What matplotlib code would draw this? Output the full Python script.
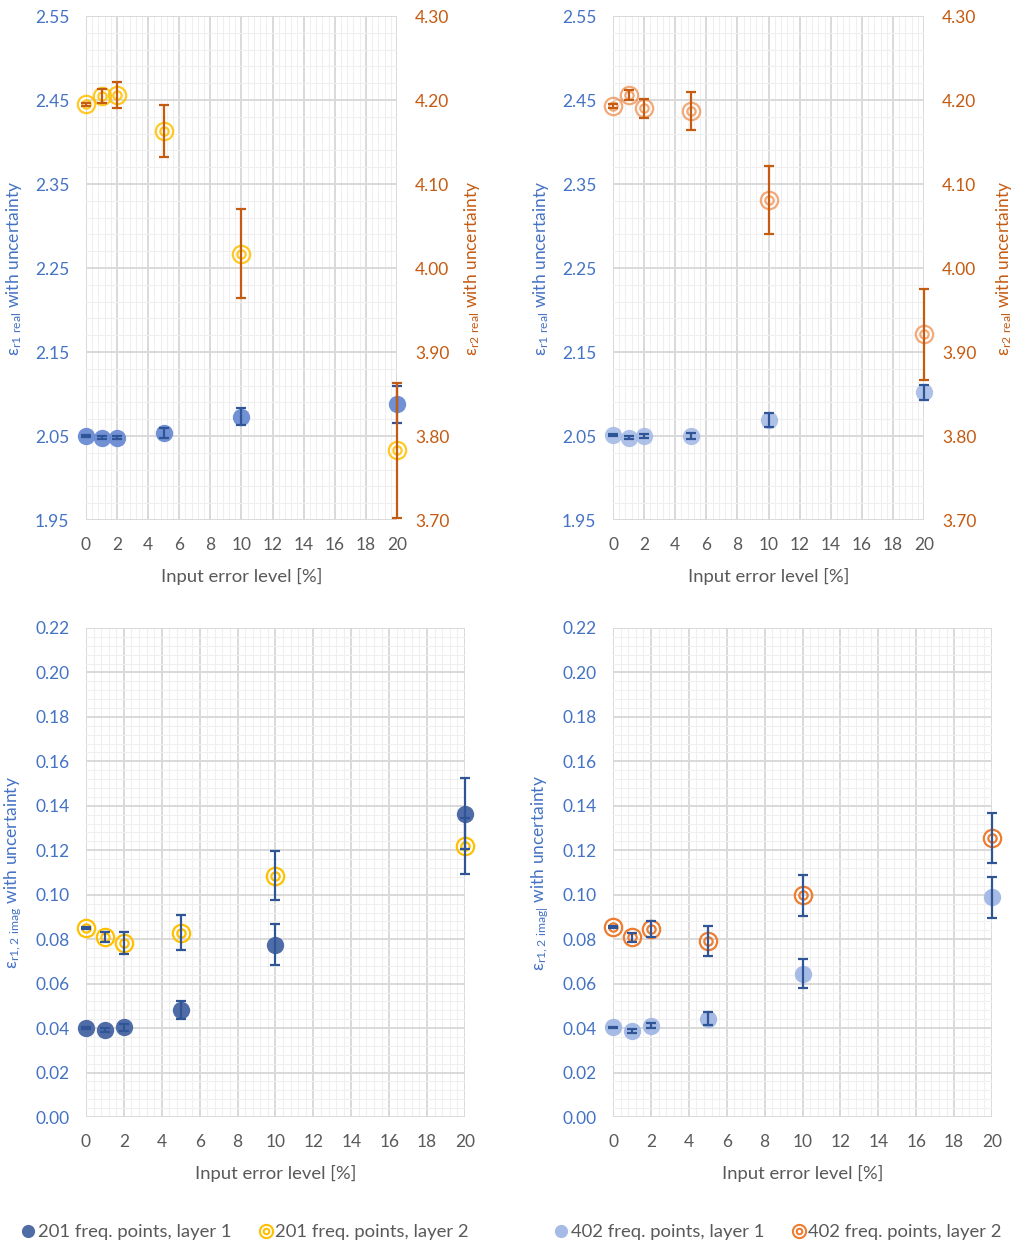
import matplotlib
matplotlib.use("Agg")
import matplotlib.pyplot as plt
from matplotlib.lines import Line2D
from matplotlib.ticker import MultipleLocator

plt.rcParams['font.family'] = ['Lato', 'DejaVu Sans']

# input error level [%]
x = [0, 1, 2, 5, 10, 20]

# real part, 201 freq. points
re201_l1 = [2.050, 2.048, 2.048, 2.054, 2.073, 2.088]
re201_l1_err = [0.001, 0.002, 0.002, 0.006, 0.010, 0.022]
re201_l2 = [4.195, 4.205, 4.206, 4.163, 4.017, 3.783]
re201_l2_err = [0.002, 0.008, 0.015, 0.031, 0.053, 0.080]

# real part, 402 freq. points
re402_l1 = [2.051, 2.048, 2.050, 2.050, 2.069, 2.102]
re402_l1_err = [0.001, 0.002, 0.002, 0.004, 0.008, 0.009]
re402_l2 = [4.193, 4.206, 4.190, 4.187, 4.081, 3.921]
re402_l2_err = [0.002, 0.006, 0.011, 0.023, 0.040, 0.054]

# imaginary part, 201 freq. points
im201_l1 = [0.0400, 0.0391, 0.0404, 0.0482, 0.0775, 0.1365]
im201_l1_err = [0.0004, 0.0008, 0.0016, 0.0040, 0.0092, 0.0160]
im201_l2 = [0.0849, 0.0811, 0.0784, 0.0829, 0.1086, 0.1218]
im201_l2_err = [0.0004, 0.0022, 0.0049, 0.0079, 0.0110, 0.0125]

# imaginary part, 402 freq. points
im402_l1 = [0.0403, 0.0388, 0.0411, 0.0442, 0.0645, 0.0988]
im402_l1_err = [0.0004, 0.0008, 0.0012, 0.0030, 0.0064, 0.0093]
im402_l2 = [0.0856, 0.0808, 0.0846, 0.0793, 0.0997, 0.1256]
im402_l2_err = [0.0005, 0.0022, 0.0034, 0.0068, 0.0092, 0.0113]

BLUE_T = '#4472C4'
ORANGE_T = '#C55A11'
ERR_BLUE = '#2F5597'
GREY = '#595959'
c201_1 = '#4F6CA6'
c201_1_top = '#6A8BD3'
c201_2 = '#FFC000'
c402_1 = '#A5BBE6'
c402_2 = '#ED7D31'

MS = 12.5
MS_IN = 6.0


def dots(ax, y, err, color, ecolor, alpha=1.0):
    ax.plot(x, y, 'o', ms=MS, color=color, alpha=alpha, mew=0, zorder=3, clip_on=False)
    ax.errorbar(x, y, yerr=err, fmt='none', ecolor=ecolor, elinewidth=1.6,
                capsize=3.6, capthick=1.6, zorder=4, clip_on=False)


def rings(ax, y, err, color, ecolor, alpha=1.0):
    ax.plot(x, y, 'o', ms=MS, mfc='none', mec=color, mew=1.6, alpha=alpha,
            zorder=3, clip_on=False)
    ax.plot(x, y, 'o', ms=MS_IN, mfc='none', mec=color, mew=1.6, alpha=alpha,
            zorder=3, clip_on=False)
    ax.errorbar(x, y, yerr=err, fmt='none', ecolor=ecolor, elinewidth=1.6,
                capsize=3.6, capthick=1.6, zorder=4, clip_on=False)


def style(ax, ylim, ymaj, ymin, off=0.0, moff=0.0):
    ax.set_xlim(0, 20)
    ax.set_ylim(*ylim)
    ax.xaxis.set_major_locator(MultipleLocator(2))
    ax.xaxis.set_minor_locator(MultipleLocator(0.4))
    ax.yaxis.set_major_locator(MultipleLocator(ymaj, offset=off))
    ax.yaxis.set_minor_locator(MultipleLocator(ymin, offset=moff))
    ax.grid(True, which='major', color='#D9D9D9', lw=1.4)
    ax.grid(True, which='minor', color='#EFEFEF', lw=0.8)
    ax.set_axisbelow(True)
    for s in ax.spines.values():
        s.set_visible(False)
    ax.tick_params(which='both', length=0)
    ax.tick_params(axis='x', labelsize=12.5, labelcolor=GREY, pad=12)
    ax.tick_params(axis='y', labelsize=12.5, labelcolor=BLUE_T, pad=12)
    ax.set_xlabel('Input error level [%]', fontsize=13.3, color=GREY, labelpad=11)


fig = plt.figure(figsize=(10.15, 12.45), dpi=100)

top_h = 0.4048
top_b = 0.5823
bot_h = 0.3928
bot_b = 0.1028
lx = 0.0847
rx = 0.604

panels = [
    (lx, re201_l1, re201_l1_err, re201_l2, re201_l2_err, c201_1_top, 0.95, c201_2, 0.85, 1.21),
    (rx, re402_l1, re402_l1_err, re402_l2, re402_l2_err, c402_1, 0.9, c402_2, 0.65, 1.225),
]
for left, y1, e1, y2, e2, col1, a1, col2, a2, rpos in panels:
    ax = fig.add_axes([left, top_b, 0.3064, top_h])
    style(ax, (1.95, 2.55), 0.1, 0.02, off=0.05, moff=0.01)
    ax.set_ylim(1.95, 2.55)
    ax.yaxis.set_major_formatter(lambda v, p: f'{v:.2f}')
    dots(ax, y1, e1, col1, ERR_BLUE, a1)
    ax.set_ylabel(r'$\mathregular{\varepsilon_{r1\ real}}$ with uncertainty',
                  fontsize=12.5, color=BLUE_T)
    ax.yaxis.set_label_coords(-0.2, 0.5)
    ax2 = ax.twinx()
    ax2.set_ylim(3.70, 4.30)
    ax2.yaxis.set_major_locator(MultipleLocator(0.1))
    ax2.yaxis.set_major_formatter(lambda v, p: f'{v:.2f}')
    for s in ax2.spines.values():
        s.set_visible(False)
    ax2.tick_params(length=0, labelsize=12.5, labelcolor=ORANGE_T, pad=13)
    rings(ax2, y2, e2, col2, ORANGE_T, a2)
    ax2.set_ylabel(r'$\mathregular{\varepsilon_{r2\ real}}$ with uncertainty',
                   fontsize=12.5, color=ORANGE_T)
    ax2.yaxis.set_label_coords(rpos, 0.5)

bottom = [
    (lx, im201_l1, im201_l1_err, im201_l2, im201_l2_err, c201_1, c201_2,
     r'$\mathregular{\varepsilon_{r1,2\ imag}}$ with uncertainty'),
    (rx, im402_l1, im402_l1_err, im402_l2, im402_l2_err, c402_1, c402_2,
     r'$\mathregular{\varepsilon_{r1,2\ imag|}}$ with uncertainty'),
]
for left, y1, e1, y2, e2, col1, col2, lab in bottom:
    ax = fig.add_axes([left, bot_b, 0.3734, bot_h])
    style(ax, (0, 0.22), 0.02, 0.004)
    ax.set_ylim(0, 0.22)
    ax.yaxis.set_major_formatter(lambda v, p: f'{v:.2f}')
    dots(ax, y1, e1, col1, ERR_BLUE)
    rings(ax, y2, e2, col2, ERR_BLUE)
    ax.set_ylabel(lab, fontsize=12.5, color=BLUE_T)
    ax.yaxis.set_label_coords(-0.163, 0.5)


def ring_handle(color):
    outer = Line2D([], [], marker='o', ls='none', ms=9.5, mfc='none', mec=color, mew=1.5)
    inner = Line2D([], [], marker='o', ls='none', ms=4, mfc='none', mec=color, mew=1.5)
    return (outer, inner)


def dot_handle(color):
    return Line2D([], [], marker='o', ls='none', ms=9.5, color=color, mew=0)


fig.legend([dot_handle(c201_1), ring_handle(c201_2)],
           ['201 freq. points, layer 1', '201 freq. points, layer 2'],
           loc='center', bbox_to_anchor=(245 / 1015, 1 - 1232 / 1245), ncol=2,
           frameon=False, fontsize=13.3, labelcolor=GREY, handlelength=0.8,
           handletextpad=0.1, columnspacing=1.5)
fig.legend([dot_handle(c402_1), ring_handle(c402_2)],
           ['402 freq. points, layer 1', '402 freq. points, layer 2'],
           loc='center', bbox_to_anchor=(778 / 1015, 1 - 1232 / 1245), ncol=2,
           frameon=False, fontsize=13.3, labelcolor=GREY, handlelength=0.8,
           handletextpad=0.1, columnspacing=1.5)

fig.savefig('out.png', dpi=100)
